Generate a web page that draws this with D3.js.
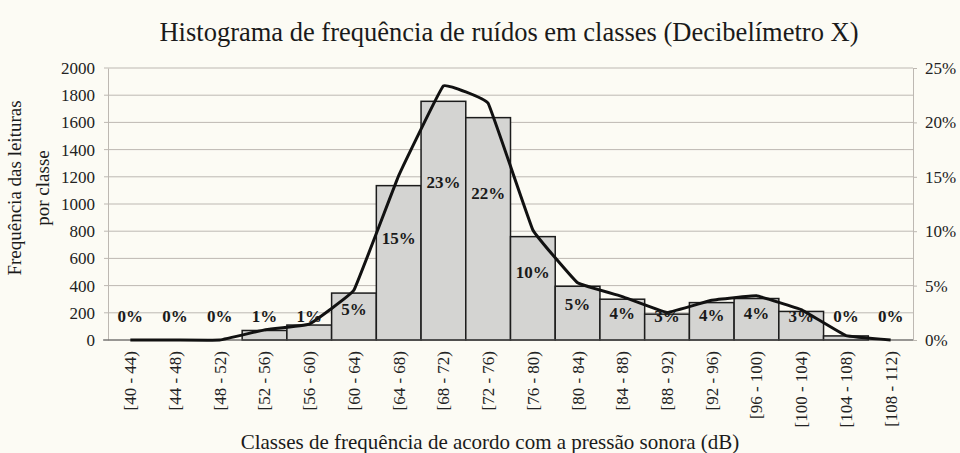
<!DOCTYPE html>
<html>
<head>
<meta charset="utf-8">
<script src="https://cdn.jsdelivr.net/npm/d3@7"></script>
<style>
  body { margin: 0; background: #fcfbf4; }
  svg { display: block; font-family: "Liberation Serif", "DejaVu Serif", serif; }
</style>
</head>
<body>
<svg id="chart" width="960" height="453"></svg>
<script>
// classes (dB) and number of readings per class
const classes = ["[40 - 44)", "[44 - 48)", "[48 - 52)", "[52 - 56)", "[56 - 60)", "[60 - 64)",
    "[64 - 68)", "[68 - 72)", "[72 - 76)", "[76 - 80)", "[80 - 84)", "[84 - 88)",
    "[88 - 92)", "[92 - 96)", "[96 - 100)", "[100 - 104)", "[104 - 108)", "[108 - 112)"];
const counts = [0, 0, 0, 70, 110, 345, 1135, 1755, 1635, 760, 395, 300, 190, 275, 305, 210, 30, 0];
const countTicks = [0, 200, 400, 600, 800, 1000, 1200, 1400, 1600, 1800, 2000];
const pctTicks = [0, 0.05, 0.10, 0.15, 0.20, 0.25];

const total = d3.sum(counts);
const data = classes.map((c, i) => ({ cls: c, count: counts[i], pct: counts[i] / total }));

const svg = d3.select("#chart");
const W = 960, H = 453;
const m = { left: 108, right: 47, top: 68, bottom: 113 };

svg.append("rect").attr("width", W).attr("height", H).attr("fill", "#fcfbf4");

const x = d3.scaleBand().domain(classes).range([m.left, W - m.right]).padding(0);
const y = d3.scaleLinear().domain([0, 2000]).range([H - m.bottom, m.top]);
const yPct = d3.scaleLinear().domain([0, 0.25]).range([H - m.bottom, m.top]);

// grid
svg.append("g")
    .selectAll("line")
    .data(countTicks)
    .join("line")
    .attr("x1", m.left - 4)
    .attr("x2", W - m.right)
    .attr("y1", d => y(d))
    .attr("y2", d => y(d))
    .attr("stroke", "#bdb8b2")
    .attr("stroke-width", 1);

// left axis
const gLeft = svg.append("g")
    .attr("transform", `translate(${m.left},0)`)
    .call(d3.axisLeft(y).tickValues(countTicks).tickFormat(d3.format("d")).tickSize(0).tickPadding(13));
gLeft.select(".domain").attr("stroke", "#bdb8b2");
gLeft.selectAll("text").attr("font-size", 17).attr("fill", "#222").style("font-family", "Liberation Serif");

// right axis
const gRight = svg.append("g")
    .attr("transform", `translate(${W - m.right},0)`)
    .call(d3.axisRight(yPct).tickValues(pctTicks).tickFormat(d3.format(".0%")).tickSize(4).tickPadding(8));
gRight.selectAll(".domain, line").attr("stroke", "#bdb8b2");
gRight.selectAll("text").attr("font-size", 17).attr("fill", "#222").style("font-family", "Liberation Serif");

// bars
svg.append("g")
    .selectAll("rect")
    .data(data)
    .join("rect")
    .attr("x", d => x(d.cls))
    .attr("y", d => y(d.count))
    .attr("width", x.bandwidth())
    .attr("height", d => y(0) - y(d.count))
    .attr("fill", "#d4d4d2")
    .attr("stroke", "#1c1c1c")
    .attr("stroke-width", 1.5);

// bottom axis
const gBottom = svg.append("g")
    .attr("transform", `translate(0,${y(0)})`)
    .call(d3.axisBottom(x).tickSize(0).tickPadding(0));
gBottom.select(".domain").attr("stroke", "#555").attr("d", `M${m.left - 5},0H${W - m.right}`);
gBottom.selectAll("text")
    .attr("font-size", 17)
    .attr("fill", "#222")
    .style("font-family", "Liberation Serif")
    .attr("text-anchor", "end")
    .attr("transform", "rotate(-90)")
    .attr("x", -11)
    .attr("y", 0)
    .attr("dy", "0.35em");

// percentage line
const line = d3.line()
    .x(d => x(d.cls) + x.bandwidth() / 2)
    .y(d => yPct(d.pct))
    .curve(d3.curveCardinal.tension(0.8));

svg.append("path")
    .datum(data)
    .attr("d", line)
    .attr("fill", "none")
    .attr("stroke", "#111")
    .attr("stroke-width", 3)
    .attr("stroke-linejoin", "round");

// percentage labels
svg.append("g")
    .selectAll("text")
    .data(data)
    .join("text")
    .attr("x", d => x(d.cls) + x.bandwidth() / 2)
    .attr("y", d => Math.min(y(d.count * 0.66), y(0) - 24))
    .attr("dy", "0.35em")
    .attr("text-anchor", "middle")
    .attr("font-size", 17)
    .attr("font-weight", "bold")
    .attr("fill", "#1a1a1a")
    .text(d => Math.round(d.pct * 100) + "%");

// titles
svg.append("text")
    .attr("x", 509)
    .attr("y", 41)
    .attr("text-anchor", "middle")
    .attr("font-size", 26.5)
    .attr("fill", "#1a1a1a")
    .text("Histograma  de frequência de ruídos em classes (Decibelímetro X)");

svg.append("text")
    .attr("x", 490)
    .attr("y", 449)
    .attr("text-anchor", "middle")
    .attr("font-size", 21)
    .attr("fill", "#1a1a1a")
    .text("Classes de frequência de acordo com a pressão sonora (dB)");

const yTitle = svg.append("text")
    .attr("transform", "translate(0,188) rotate(-90)")
    .attr("text-anchor", "middle")
    .attr("font-size", 19)
    .attr("fill", "#1a1a1a");
yTitle.append("tspan").attr("x", 0).attr("y", 21).text("Frequência das leituras");
yTitle.append("tspan").attr("x", 0).attr("y", 49).text("por classe");
</script>
</body>
</html>
